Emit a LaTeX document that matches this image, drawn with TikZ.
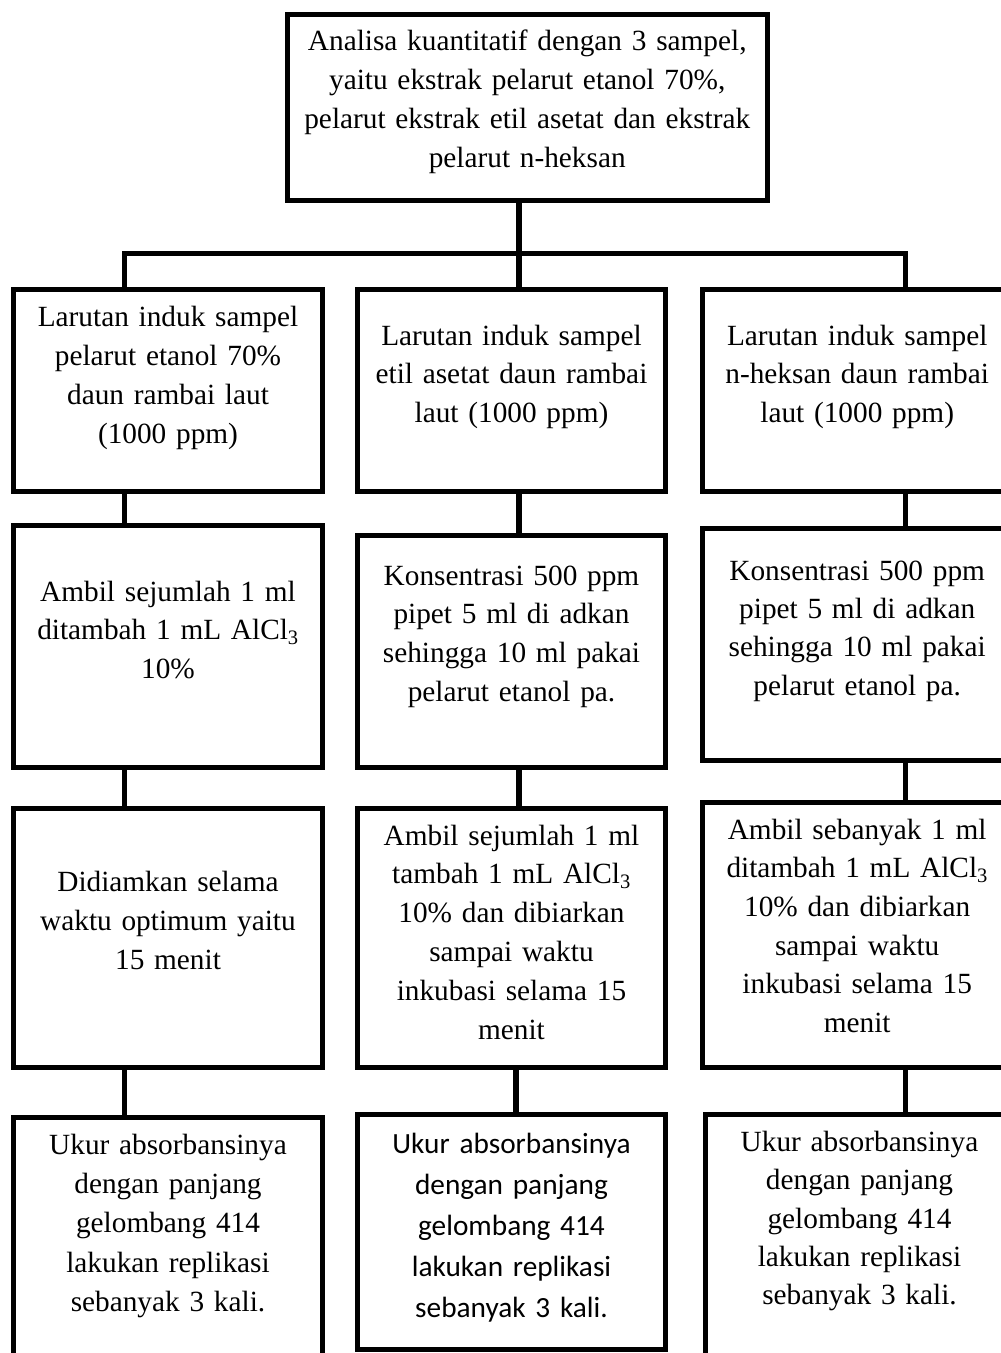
\documentclass[tikz,border=0pt]{standalone}
\usepackage{fontspec}
\setmainfont{Liberation Serif}
\newfontfamily\calibrifont{Carlito}
\begin{document}
\begin{tikzpicture}[x=1pt,y=-1pt,
  boxstyle/.style={draw=black, line width=5pt, rectangle, inner sep=0pt, outer sep=0pt, line join=miter},
  connstyle/.style={draw=black, line width=5.5pt, line cap=butt, line join=miter},
  txt/.style={inner sep=0pt, outer sep=0pt, align=center, text width=#1, anchor=base,
    font=\fontsize{29.3}{38.8}\selectfont},
  txt/.default=290pt,
  calibritxt/.style={txt, font=\calibrifont\fontsize{29.3}{41.2}\selectfont}
]
\path[use as bounding box] (0,0) rectangle (1001,1353);
\fill[white] (0,0) rectangle (1001,1353);
\clip (0,0) rectangle (1001,1353);

% connector columns and bar level
\coordinate (xl) at (124.5,0);
\coordinate (xm) at (519,0);
\coordinate (xmb) at (516,0);
\coordinate (xr) at (905.5,0);
\coordinate (bar) at (0,253.7);

% boxes
\node[boxstyle, minimum width=479.5pt, minimum height=186pt] (T) at (527.25,107) {};

\node[boxstyle, minimum width=309pt, minimum height=201.5pt] (L1) at (168,390.25) {};
\node[boxstyle, minimum width=308pt, minimum height=201.5pt] (M1) at (511.5,390.25) {};
\node[boxstyle, minimum width=309pt, minimum height=202pt] (R1) at (857.2,390.5) {};

\node[boxstyle, minimum width=309pt, minimum height=241.2pt] (L2) at (168,646.4) {};
\node[boxstyle, minimum width=308pt, minimum height=232pt] (M2) at (511.5,651) {};
\node[boxstyle, minimum width=309pt, minimum height=232pt] (R2) at (857.2,644) {};

\node[boxstyle, minimum width=309pt, minimum height=259.5pt] (L3) at (168,937.75) {};
\node[boxstyle, minimum width=308pt, minimum height=259pt] (M3) at (511.5,937.5) {};
\node[boxstyle, minimum width=309pt, minimum height=265pt] (R3) at (857.2,934.5) {};

\node[boxstyle, minimum width=309pt, minimum height=253pt] (L4) at (168,1243.5) {};
\node[boxstyle, minimum width=308pt, minimum height=235pt] (M4) at (511.5,1231.5) {};
\node[boxstyle, minimum width=309pt, minimum height=256pt] (R4) at (859.5,1242) {};

% connectors
\draw[connstyle] (T.south -| xm) -- (M1.north -| xm);
\draw[connstyle] (L1.north -| xl) -- (xl |- bar) -- (xr |- bar) -- (R1.north -| xr);

\draw[connstyle] (L1.south -| xl) -- (L2.north -| xl);
\draw[connstyle] (M1.south -| xm) -- (M2.north -| xm);
\draw[connstyle] (R1.south -| xr) -- (R2.north -| xr);

\draw[connstyle] (L2.south -| xl) -- (L3.north -| xl);
\draw[connstyle] (M2.south -| xm) -- (M3.north -| xm);
\draw[connstyle] (R2.south -| xr) -- (R3.north -| xr);

\draw[connstyle] (L3.south -| xl) -- (L4.north -| xl);
\draw[connstyle] (M3.south -| xmb) -- (M4.north -| xmb);
\draw[connstyle] (R3.south -| xr) -- (R4.north -| xr);

% texts
\node[txt=470pt] (tT) at (527.25,50.7) {Analisa kuantitatif dengan 3 sampel,\\ yaitu ekstrak pelarut etanol 70\%,\\ pelarut ekstrak etil asetat dan ekstrak\\ pelarut n-heksan};

\node[txt] (tL1) at (168,326.7) {Larutan induk sampel\\ pelarut etanol 70\%\\ daun rambai laut\\ (1000 ppm)};
\node[txt] (tM1) at (511.5,345) {Larutan induk sampel\\ etil asetat daun rambai\\ laut (1000 ppm)};
\node[txt] (tR1) at (857.2,345) {Larutan induk sampel\\ n-heksan daun rambai\\ laut (1000 ppm)};

\node[txt] (tL2) at (168,601) {Ambil sejumlah 1 ml\\ ditambah 1 mL AlCl\textsubscript{3}\\ 10\%};
\node[txt] (tM2) at (511.5,585) {Konsentrasi 500 ppm\\ pipet 5 ml di adkan\\ sehingga 10 ml pakai\\ pelarut etanol pa.};
\node[txt, font=\fontsize{29.3}{38.4}\selectfont] (tR2) at (857.2,580) {Konsentrasi 500 ppm\\ pipet 5 ml di adkan\\ sehingga 10 ml pakai\\ pelarut etanol pa.};

\node[txt] (tL3) at (168,891.7) {Didiamkan selama\\ waktu optimum yaitu\\ 15 menit};
\node[txt] (tM3) at (511.5,845) {Ambil sejumlah 1 ml\\ tambah 1 mL AlCl\textsubscript{3}\\ 10\% dan dibiarkan\\ sampai waktu\\ inkubasi selama 15\\ menit};
\node[txt, font=\fontsize{29.3}{38.6}\selectfont] (tR3) at (857.2,839.3) {Ambil sebanyak 1 ml\\ ditambah 1 mL AlCl\textsubscript{3}\\ 10\% dan dibiarkan\\ sampai waktu\\ inkubasi selama 15\\ menit};

\node[txt, font=\fontsize{29.3}{39.1}\selectfont] (tL4) at (168,1154.7) {Ukur absorbansinya\\ dengan panjang\\ gelombang 414\\ lakukan replikasi\\ sebanyak 3 kali.};
\node[calibritxt] (tM4) at (511.5,1153) {Ukur absorbansinya\\ dengan panjang\\ gelombang 414\\ lakukan replikasi\\ sebanyak 3 kali.};
\node[txt, font=\fontsize{29.3}{38.4}\selectfont] (tR4) at (859.5,1151.3) {Ukur absorbansinya\\ dengan panjang\\ gelombang 414\\ lakukan replikasi\\ sebanyak 3 kali.};
\end{tikzpicture}
\end{document}
